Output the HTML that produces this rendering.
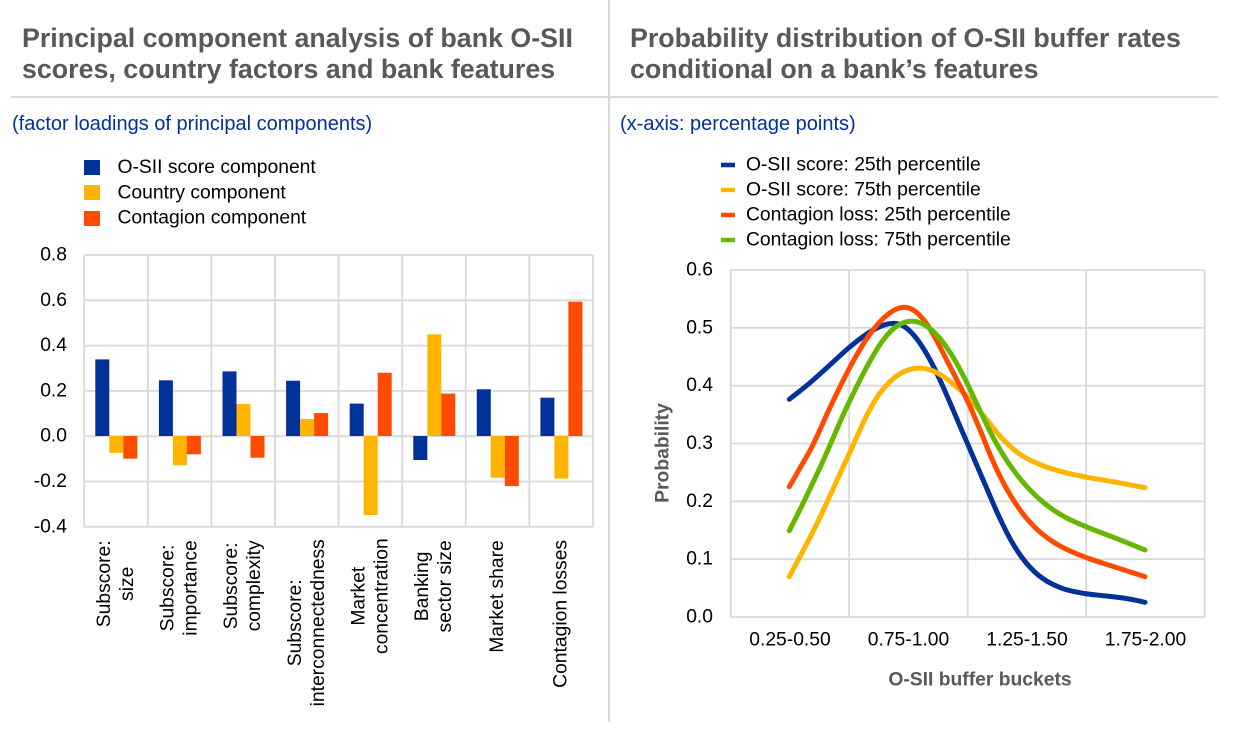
<!DOCTYPE html>
<html>
<head>
<meta charset="utf-8">
<style>
  html, body { margin:0; padding:0; background:#ffffff; }
  body { width:1240px; height:729px; overflow:hidden; position:relative; }
  svg { position:absolute; left:0; top:0; }
  text { font-family:"Liberation Sans", Arial, sans-serif; }
  .title { font-size:26.8px; font-weight:bold; fill:#595959; }
  .sub { font-size:20px; fill:#003299; }
  .lg { font-size:19.3px; fill:#000; }
  .tk { font-size:19.3px; fill:#000; }
  .ax { font-size:19.3px; font-weight:bold; fill:#595959; }
  .grid { stroke:#d9d9d9; stroke-width:1.8; fill:none; }
  .crv { fill:none; stroke-width:5; stroke-linecap:round; stroke-linejoin:round; }
</style>
</head>
<body>
<svg id="chart" width="1240" height="729" viewBox="0 0 1240 729" xmlns="http://www.w3.org/2000/svg">
  <!-- separators -->
  <line x1="11" y1="97" x2="1218" y2="97" stroke="#d9d9d9" stroke-width="2"/>
  <line x1="609" y1="0" x2="609" y2="722" stroke="#d9d9d9" stroke-width="2"/>

  <!-- titles -->
  <text class="title" x="22" y="47">Principal component analysis of bank O-SII</text>
  <text class="title" x="22" y="78">scores, country factors and bank features</text>
  <text class="title" x="630" y="47">Probability distribution of O-SII buffer rates</text>
  <text class="title" x="630" y="78">conditional on a bank’s features</text>

  <!-- subtitles -->
  <text class="sub" x="12" y="124" dominant-baseline="central">(factor loadings of principal components)</text>
  <text class="sub" x="620" y="124" dominant-baseline="central">(x-axis: percentage points)</text>

  <!-- left legend -->
  <rect x="84" y="160" width="16" height="15" fill="#003299"/>
  <rect x="84" y="185" width="16" height="15" fill="#ffb400"/>
  <rect x="84" y="211" width="16" height="15" fill="#ff4b00"/>
  <text class="lg" x="117.5" y="167.7" dominant-baseline="central">O-SII score component</text>
  <text class="lg" x="117.5" y="192.9" dominant-baseline="central">Country component</text>
  <text class="lg" x="117.5" y="218.2" dominant-baseline="central">Contagion component</text>

  <!-- right legend -->
  <line x1="721" y1="165" x2="735" y2="165" stroke="#003299" stroke-width="4.5"/>
  <line x1="721" y1="190" x2="735" y2="190" stroke="#ffb400" stroke-width="4.5"/>
  <line x1="721" y1="215" x2="735" y2="215" stroke="#ff4b00" stroke-width="4.5"/>
  <line x1="721" y1="240" x2="735" y2="240" stroke="#65b800" stroke-width="4.5"/>
  <text class="lg" x="746" y="165" dominant-baseline="central">O-SII score: 25th percentile</text>
  <text class="lg" x="746" y="190" dominant-baseline="central">O-SII score: 75th percentile</text>
  <text class="lg" x="746" y="215" dominant-baseline="central">Contagion loss: 25th percentile</text>
  <text class="lg" x="746" y="240" dominant-baseline="central">Contagion loss: 75th percentile</text>

  <!-- LEFT CHART grid -->
  <g class="grid">
    <line x1="84.2" y1="255" x2="593" y2="255"/>
    <line x1="84.2" y1="300.3" x2="593" y2="300.3"/>
    <line x1="84.2" y1="345.6" x2="593" y2="345.6"/>
    <line x1="84.2" y1="390.9" x2="593" y2="390.9"/>
    <line x1="84.2" y1="436.2" x2="593" y2="436.2"/>
    <line x1="84.2" y1="481.5" x2="593" y2="481.5"/>
    <line x1="84.2" y1="526.8" x2="593" y2="526.8"/>
    <line x1="84.2" y1="255" x2="84.2" y2="526.8"/>
    <line x1="147.8" y1="255" x2="147.8" y2="526.8"/>
    <line x1="211.4" y1="255" x2="211.4" y2="526.8"/>
    <line x1="275.0" y1="255" x2="275.0" y2="526.8"/>
    <line x1="338.6" y1="255" x2="338.6" y2="526.8"/>
    <line x1="402.2" y1="255" x2="402.2" y2="526.8"/>
    <line x1="465.7" y1="255" x2="465.7" y2="526.8"/>
    <line x1="529.3" y1="255" x2="529.3" y2="526.8"/>
    <line x1="593" y1="255" x2="593" y2="526.8"/>
  </g>

  <!-- left y labels -->
  <g class="tk" text-anchor="end" dominant-baseline="central">
    <text x="67" y="255">0.8</text>
    <text x="67" y="300.3">0.6</text>
    <text x="67" y="345.6">0.4</text>
    <text x="67" y="390.9">0.2</text>
    <text x="67" y="436.2">0.0</text>
    <text x="67" y="481.5">-0.2</text>
    <text x="67" y="526.8">-0.4</text>
  </g>

  <!-- bars -->
  <g>
    <rect x="95.3" y="359.4" width="14" height="76.6" fill="#003299"/>
    <rect x="109.3" y="436" width="14" height="16.8" fill="#ffb400"/>
    <rect x="123.3" y="436" width="14" height="22.7" fill="#ff4b00"/>

    <rect x="158.9" y="380.3" width="14" height="55.7" fill="#003299"/>
    <rect x="172.9" y="436" width="14" height="29.2" fill="#ffb400"/>
    <rect x="186.9" y="436" width="14" height="18.3" fill="#ff4b00"/>

    <rect x="222.5" y="371.4" width="14" height="64.6" fill="#003299"/>
    <rect x="236.5" y="404.1" width="14" height="31.9" fill="#ffb400"/>
    <rect x="250.5" y="436" width="14" height="21.7" fill="#ff4b00"/>

    <rect x="286.1" y="380.7" width="14" height="55.3" fill="#003299"/>
    <rect x="300.1" y="419" width="14" height="17" fill="#ffb400"/>
    <rect x="314.1" y="413.1" width="14" height="22.9" fill="#ff4b00"/>

    <rect x="349.7" y="403.6" width="14" height="32.4" fill="#003299"/>
    <rect x="363.7" y="436" width="14" height="79" fill="#ffb400"/>
    <rect x="377.7" y="372.8" width="14" height="63.2" fill="#ff4b00"/>

    <rect x="413.3" y="436" width="14" height="24" fill="#003299"/>
    <rect x="427.3" y="334.3" width="14" height="101.7" fill="#ffb400"/>
    <rect x="441.3" y="393.6" width="14" height="42.4" fill="#ff4b00"/>

    <rect x="476.8" y="389.3" width="14" height="46.7" fill="#003299"/>
    <rect x="490.8" y="436" width="14" height="41.7" fill="#ffb400"/>
    <rect x="504.8" y="436" width="14" height="50.1" fill="#ff4b00"/>

    <rect x="540.4" y="397.7" width="14" height="38.3" fill="#003299"/>
    <rect x="554.4" y="436" width="14" height="42.6" fill="#ffb400"/>
    <rect x="568.4" y="301.7" width="14" height="134.3" fill="#ff4b00"/>
  </g>

  <!-- left x labels (rotated) -->
  <g class="tk" text-anchor="middle" dominant-baseline="central">
    <text transform="translate(104.5,583.8) rotate(-90)">Subscore:</text>
    <text transform="translate(127.5,583.8) rotate(-90)">size</text>
    <text transform="translate(168.1,588) rotate(-90)">Subscore:</text>
    <text transform="translate(191.1,588) rotate(-90)">importance</text>
    <text transform="translate(231.7,585.9) rotate(-90)">Subscore:</text>
    <text transform="translate(254.7,585.9) rotate(-90)">complexity</text>
    <text transform="translate(295.3,622.8) rotate(-90)">Subscore:</text>
    <text transform="translate(318.3,622.8) rotate(-90)">interconnectedness</text>
    <text transform="translate(358.9,596.2) rotate(-90)">Market</text>
    <text transform="translate(381.9,596.2) rotate(-90)">concentration</text>
    <text transform="translate(422.5,586.4) rotate(-90)">Banking</text>
    <text transform="translate(445.5,586.4) rotate(-90)">sector size</text>
    <text transform="translate(497.5,596.5) rotate(-90)">Market share</text>
    <text transform="translate(561.1,613.9) rotate(-90)">Contagion losses</text>
  </g>

  <!-- RIGHT CHART grid -->
  <g class="grid">
    <line x1="730.7" y1="270" x2="1204.7" y2="270"/>
    <line x1="730.7" y1="327.8" x2="1204.7" y2="327.8"/>
    <line x1="730.7" y1="385.7" x2="1204.7" y2="385.7"/>
    <line x1="730.7" y1="443.5" x2="1204.7" y2="443.5"/>
    <line x1="730.7" y1="501.3" x2="1204.7" y2="501.3"/>
    <line x1="730.7" y1="559.2" x2="1204.7" y2="559.2"/>
    <line x1="730.7" y1="617" x2="1204.7" y2="617"/>
    <line x1="730.7" y1="270" x2="730.7" y2="617"/>
    <line x1="849.2" y1="270" x2="849.2" y2="617"/>
    <line x1="967.7" y1="270" x2="967.7" y2="617"/>
    <line x1="1086.2" y1="270" x2="1086.2" y2="617"/>
    <line x1="1204.7" y1="270" x2="1204.7" y2="617"/>
  </g>

  <!-- right y labels -->
  <g class="tk" text-anchor="end" dominant-baseline="central">
    <text x="713" y="270">0.6</text>
    <text x="713" y="327.8">0.5</text>
    <text x="713" y="385.7">0.4</text>
    <text x="713" y="443.5">0.3</text>
    <text x="713" y="501.3">0.2</text>
    <text x="713" y="559.2">0.1</text>
    <text x="713" y="617">0.0</text>
  </g>

  <!-- right x labels -->
  <g class="tk" text-anchor="middle" dominant-baseline="central">
    <text x="790" y="640">0.25-0.50</text>
    <text x="908.5" y="640">0.75-1.00</text>
    <text x="1027" y="640">1.25-1.50</text>
    <text x="1145.5" y="640">1.75-2.00</text>
  </g>

  <!-- axis titles -->
  <text class="ax" x="980" y="680" text-anchor="middle" dominant-baseline="central">O-SII buffer buckets</text>
  <text class="ax" transform="translate(663,453) rotate(-90)" text-anchor="middle" dominant-baseline="central">Probability</text>

  <!-- curves -->
  <polyline class="crv" stroke="#003299" points="789.3,399.3 808.3,385 828.3,366.7 848.3,347.3 868.3,331.7 885,323.3 895,322.7 903.3,325 911.7,331.7 921.7,345 931.7,361.7 941.7,383.3 951.7,406.7 961.7,430 970,450 985,483.3 998.3,516.7 1011.7,543.3 1025,563.3 1041.7,580 1061.7,590 1086,594.3 1108.3,596 1128.3,598.3 1145,602.3"/>
  <polyline class="crv" stroke="#ffb400" points="789.3,576.7 801.7,553.3 815,528.3 828.3,500 840,473.3 850,451.7 856,440 865,416.7 878.3,393.3 891.7,378.3 905,370 918.3,366.7 931.7,369 945,376.7 958.3,388.3 971.7,400 983.3,415 1001.7,440 1018.3,455 1038.3,465 1065,473.3 1086,477.3 1115,481.7 1145,487.7"/>
  <polyline class="crv" stroke="#ff4b00" points="789.3,486.7 801.7,465 813.3,445 815.5,440 828.3,410 841.7,383.3 855,356.7 868.3,335 881.7,318.3 895,308.3 905,306 915,309.3 925,320 935,336.7 945,356.7 958.3,383.3 968,400 981.7,433.3 991.7,460 1001.7,480 1011.7,498.3 1025,518.3 1041.7,535 1061.7,548.3 1086,558.3 1115,566.7 1145,576.7"/>
  <polyline class="crv" stroke="#65b800" points="789.3,530.7 801.7,506.7 815,478.3 825,456.7 832.5,440 841.7,416.7 855,390 868.3,363.3 881.7,340 895,325 910,318.3 925,323.3 938.3,335 951.7,353.3 965,378 978.3,406.7 993,440 1008.3,463.3 1025,486.7 1045,505 1065,518.3 1086,527.3 1115,537.3 1145,550"/>
</svg>
<script>
(function(){
  try {
    var svg = document.getElementById('chart');
    var pls = svg.querySelectorAll('polyline.crv');
    for (var k = 0; k < pls.length; k++) {
      var pl = pls[k];
      var raw = pl.getAttribute('points').trim().split(/\s+/);
      var p = [];
      for (var i = 0; i < raw.length; i++) {
        var xy = raw[i].split(',');
        p.push([parseFloat(xy[0]), parseFloat(xy[1])]);
      }
      // light smoothing of points (keep endpoints)
      var q = [p[0]];
      for (var i = 1; i < p.length - 1; i++) {
        q.push([(p[i-1][0] + 2*p[i][0] + p[i+1][0]) / 4, (p[i-1][1] + 2*p[i][1] + p[i+1][1]) / 4]);
      }
      q.push(p[p.length-1]);
      var d = 'M' + q[0][0] + ',' + q[0][1];
      for (var i = 0; i < q.length - 1; i++) {
        var p0 = q[i-1] || q[i], p1 = q[i], p2 = q[i+1], p3 = q[i+2] || q[i+1];
        var c1x = p1[0] + (p2[0] - p0[0]) / 6, c1y = p1[1] + (p2[1] - p0[1]) / 6;
        var c2x = p2[0] - (p3[0] - p1[0]) / 6, c2y = p2[1] - (p3[1] - p1[1]) / 6;
        d += ' C' + c1x.toFixed(2) + ',' + c1y.toFixed(2) + ' ' + c2x.toFixed(2) + ',' + c2y.toFixed(2) + ' ' + p2[0].toFixed(2) + ',' + p2[1].toFixed(2);
      }
      var path = document.createElementNS('http://www.w3.org/2000/svg', 'path');
      path.setAttribute('d', d);
      path.setAttribute('class', 'crv');
      path.setAttribute('stroke', pl.getAttribute('stroke'));
      pl.parentNode.replaceChild(path, pl);
    }
  } catch (e) {}
})();
</script>
</body>
</html>
